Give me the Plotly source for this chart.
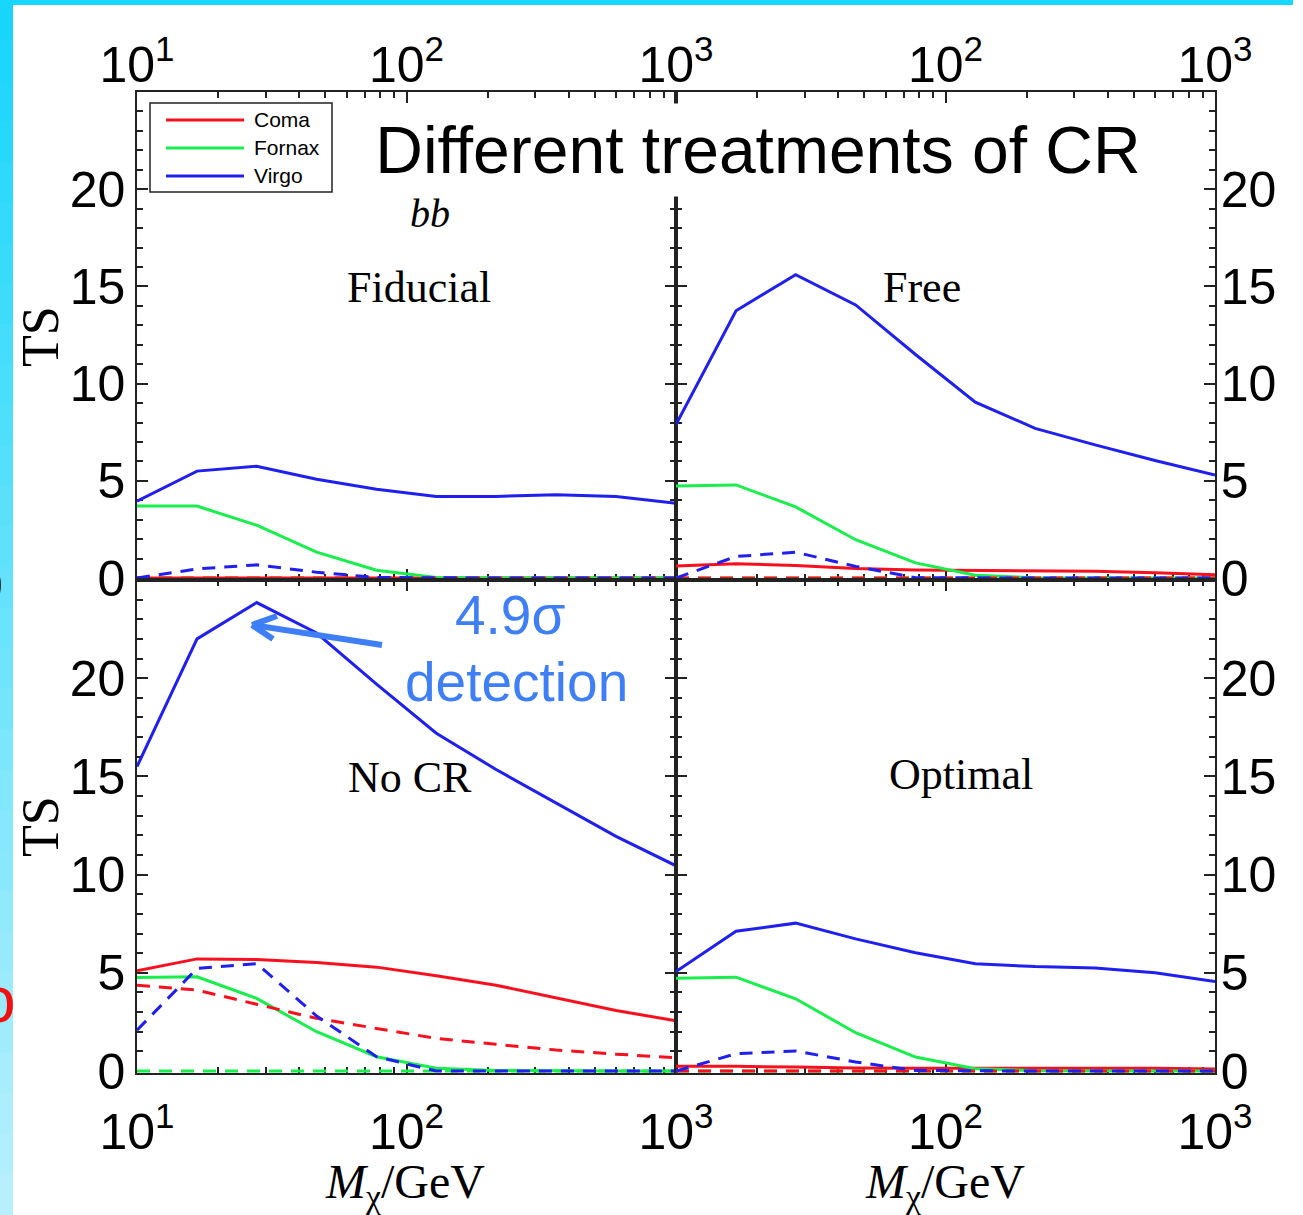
import plotly.graph_objects as go

# ---------------- data ----------------
mass = [10, 16.7, 27.8, 46.4, 77.4, 129, 215, 359, 599, 1000]

# Fiducial
coma_fid = [0, 0, 0, 0, 0, 0, 0, 0, 0, 0]
coma_fid_dash = [0, 0, 0, 0, 0, 0, 0, 0, 0, 0]
fornax_fid = [3.7, 3.7, 2.72, 1.33, 0.4, 0.03, 0, 0, 0, 0]
fornax_fid_dash = [0, 0, 0, 0, 0, 0, 0, 0, 0, 0]
virgo_fid = [3.95, 5.5, 5.75, 5.08, 4.57, 4.19, 4.2, 4.29, 4.19, 3.85]
virgo_fid_dash = [0, 0.47, 0.68, 0.3, 0.03, 0, 0, 0, 0, 0]

# Free
coma_free = [0.62, 0.74, 0.64, 0.49, 0.42, 0.39, 0.37, 0.35, 0.27, 0.17]
coma_free_dash = [0, 0, 0, 0, 0, 0, 0, 0, 0, 0]
fornax_free = [4.74, 4.79, 3.66, 1.97, 0.78, 0.14, 0.02, 0, 0, 0]
fornax_free_dash = [0, 0, 0, 0, 0, 0, 0, 0, 0, 0]
virgo_free = [7.9, 13.75, 15.6, 14.05, 11.5, 9.05, 7.7, 6.85, 6.05, 5.3]
virgo_free_dash = [0, 1.11, 1.33, 0.6, 0.02, 0, 0, 0, 0, 0]

# No CR
coma_nocr = [5.1, 5.71, 5.68, 5.53, 5.29, 4.85, 4.37, 3.73, 3.08, 2.56]
coma_nocr_dash = [4.37, 4.12, 3.4, 2.68, 2.17, 1.66, 1.36, 1.07, 0.86, 0.68]
fornax_nocr = [4.76, 4.8, 3.7, 2.0, 0.73, 0.14, 0.03, 0, 0, 0]
fornax_nocr_dash = [0, 0, 0, 0, 0, 0, 0, 0, 0, 0]
virgo_nocr = [15.5, 22.0, 23.85, 22.3, 19.7, 17.2, 15.35, 13.65, 11.95, 10.45]
virgo_nocr_dash = [2.08, 5.22, 5.47, 2.8, 0.73, 0, 0, 0, 0, 0]

# Optimal
coma_opt = [0.24, 0.24, 0.2, 0.15, 0.14, 0.14, 0.15, 0.17, 0.14, 0.1]
coma_opt_dash = [0, 0, 0, 0, 0, 0, 0, 0, 0, 0]
fornax_opt = [4.73, 4.78, 3.68, 1.95, 0.71, 0.12, 0.02, 0, 0, 0]
fornax_opt_dash = [0, 0, 0, 0, 0, 0, 0, 0, 0, 0]
virgo_opt = [5.07, 7.12, 7.53, 6.73, 6.02, 5.46, 5.32, 5.25, 5.0, 4.56]
virgo_opt_dash = [0, 0.88, 1.02, 0.46, 0.03, 0, 0, 0, 0, 0]

clusters = ["Coma", "Fornax", "Virgo"]
colors = {"Coma": "#f8101e", "Fornax": "#18ee4c", "Virgo": "#1f1ff0"}
panel_names = ["Fiducial", "Free", "No CR", "Optimal"]

panels = [
    ("x", "y", {"Coma": (coma_fid, coma_fid_dash), "Fornax": (fornax_fid, fornax_fid_dash), "Virgo": (virgo_fid, virgo_fid_dash)}),
    ("x2", "y2", {"Coma": (coma_free, coma_free_dash), "Fornax": (fornax_free, fornax_free_dash), "Virgo": (virgo_free, virgo_free_dash)}),
    ("x3", "y3", {"Coma": (coma_nocr, coma_nocr_dash), "Fornax": (fornax_nocr, fornax_nocr_dash), "Virgo": (virgo_nocr, virgo_nocr_dash)}),
    ("x4", "y4", {"Coma": (coma_opt, coma_opt_dash), "Fornax": (fornax_opt, fornax_opt_dash), "Virgo": (virgo_opt, virgo_opt_dash)}),
]

xtick_vals = [10, 100, 1000]
xtick_left = ["10<sup>1</sup>", "10<sup>2</sup>", "10<sup>3</sup>"]
xtick_right = ["", "10<sup>2</sup>", "10<sup>3</sup>"]
xminor_vals = [20, 30, 40, 50, 60, 70, 80, 90, 200, 300, 400, 500, 600, 700, 800, 900]
ytick_vals = [0, 5, 10, 15, 20]

# ---------------- geometry helpers ----------------
W, H = 1303, 1215
L, R, T, B = 137, 1215, 92, 1073


def px(p):
    return (p - L) / (R - L)


def py(p):
    return (B - p) / (B - T)


fig = go.Figure()

for xa, ya, series in panels:
    for c in clusters:
        solid = series[c][0]
        fig.add_trace(go.Scatter(x=mass, y=solid, xaxis=xa, yaxis=ya, mode="lines",
                                 line=dict(color=colors[c], width=3), showlegend=False, name=c))
    for c in ["Fornax", "Coma", "Virgo"]:
        dash = series[c][1]
        fig.add_trace(go.Scatter(x=mass, y=dash, xaxis=xa, yaxis=ya, mode="lines",
                                 line=dict(color=colors[c], width=3, dash="13px,9px"),
                                 showlegend=False, name=c + " (dashed)"))

AX = "#222222"
tickfont = dict(family="Liberation Sans, Arial, sans-serif", size=50, color="black")


def xaxis(domain, anchor, side, text):
    return dict(type="log", range=[1, 3], domain=domain, anchor=anchor, side=side,
                showline=True, linecolor=AX, linewidth=1.5, mirror="ticks",
                ticks="inside", ticklen=11, tickwidth=1.5, tickcolor=AX,
                tickvals=xtick_vals, ticktext=text, tickfont=tickfont,
                ticklabelstandoff=(-12 if side == "top" else 14),
                minor=dict(tickvals=xminor_vals, ticks="inside", ticklen=6, tickwidth=1.5, tickcolor=AX),
                showgrid=False, zeroline=False, layer="below traces")


def yaxis(domain, anchor, side):
    return dict(range=[-0.1, 25], domain=domain, anchor=anchor, side=side,
                showline=True, linecolor=AX, linewidth=1.5, mirror="ticks",
                ticks="inside", ticklen=11, tickwidth=1.5, tickcolor=AX,
                tickvals=ytick_vals, tickfont=tickfont,
                ticklabelstandoff=(0 if side == "left" else -6),
                minor=dict(dtick=1, tick0=0, ticks="inside", ticklen=6, tickwidth=1.5, tickcolor=AX),
                showgrid=False, zeroline=False, layer="below traces")


ysplit = (B - 580) / (B - T)
fig.update_layout(
    width=W, height=H, autosize=False,
    margin=dict(l=L, r=W - R, t=T, b=H - B, pad=0),
    paper_bgcolor="white", plot_bgcolor="white",
    showlegend=False,
    xaxis=xaxis([0, 0.5], "y", "top", xtick_left),
    xaxis2=xaxis([0.5, 1], "y2", "top", xtick_right),
    xaxis3=xaxis([0, 0.5], "y3", "bottom", xtick_left),
    xaxis4=xaxis([0.5, 1], "y4", "bottom", xtick_right),
    yaxis=yaxis([ysplit, 1], "x", "left"),
    yaxis2=yaxis([ysplit, 1], "x2", "right"),
    yaxis3=yaxis([0, ysplit], "x3", "left"),
    yaxis4=yaxis([0, ysplit], "x4", "right"),
)

shapes = []
annotations = []

# slide background strips
n = 30
for i in range(n):
    t0 = i / n
    r = int(0x18 + (0xbd - 0x18) * t0)
    g = int(0xd6 + (0xf1 - 0xd6) * t0)
    b = int(0xfb + (0xfd - 0xfb) * t0)
    shapes.append(dict(type="rect", xref="paper", yref="paper", layer="below",
                       x0=px(0), x1=px(13), y0=py(H * i / n), y1=py(H * (i + 1) / n + 1),
                       fillcolor=f"rgb({r},{g},{b})", line=dict(width=0)))
shapes.append(dict(type="rect", xref="paper", yref="paper", layer="below",
                   x0=px(0), x1=px(1293), y0=py(0), y1=py(5),
                   fillcolor="#17d7fd", line=dict(width=0)))

serif = "Liberation Serif, Times New Roman, serif"
sans = "Liberation Sans, Arial, sans-serif"


def ann(text, x, y, size, family, color="black", xanchor="center", yanchor="middle", angle=0, **kw):
    d = dict(text=text, xref="paper", yref="paper", x=px(x), y=py(y), xanchor=xanchor,
             yanchor=yanchor, showarrow=False, textangle=angle,
             font=dict(family=family, size=size, color=color))
    d.update(kw)
    annotations.append(d)


# title on a white box (hides the middle frame line behind it)
ann("Different treatments of CR", 758, 150, 66, sans, bgcolor="white", width=800, height=90)

# legend (manual)
shapes.append(dict(type="rect", xref="paper", yref="paper", x0=px(150), x1=px(332), y0=py(192), y1=py(103),
                   fillcolor="white", line=dict(color=AX, width=1.5)))
for i, c in enumerate(clusters):
    yy = 120 + 28 * i
    shapes.append(dict(type="line", xref="paper", yref="paper", x0=px(166), x1=px(244), y0=py(yy), y1=py(yy),
                       line=dict(color=colors[c], width=3)))
    ann(c, 252, yy, 21, sans, xanchor="left")

# arrow
acol = "#3f7ff5"
for (x0, y0, x1, y1) in [(382, 645, 252, 625), (252, 625, 277, 616), (252, 625, 273, 639)]:
    shapes.append(dict(type="line", xref="paper", yref="paper", x0=px(x0), x1=px(x1), y0=py(y0), y1=py(y1),
                       line=dict(color=acol, width=6)))

ann("<i>bb</i>", 430, 213, 40, serif)
ann(panel_names[0], 419, 287, 44, serif)
ann(panel_names[1], 922, 287, 44, serif)
ann(panel_names[2], 410, 777, 44, serif)
ann(panel_names[3], 961, 774, 44, serif)
ann("TS", 40, 337, 52, serif, angle=-90)
ann("TS", 40, 827, 52, serif, angle=-90)
ann("<i>M</i><sub>χ</sub>/GeV", 405, 1185, 48, serif)
ann("<i>M</i><sub>χ</sub>/GeV", 945, 1185, 48, serif)
ann("4.9σ", 510, 615, 55, sans, color=acol)
ann("detection", 516, 682, 55, sans, color=acol)
# partial slide characters at left edge
ann("0", 5, 586, 50, sans, xanchor="right")
ann("o", 18, 1000, 64, sans, color="#f01010", xanchor="right")

fig.update_layout(shapes=shapes, annotations=annotations)

fig.write_html("out.html", config={"displayModeBar": False},
               post_script="document.body.style.margin='0px';")
